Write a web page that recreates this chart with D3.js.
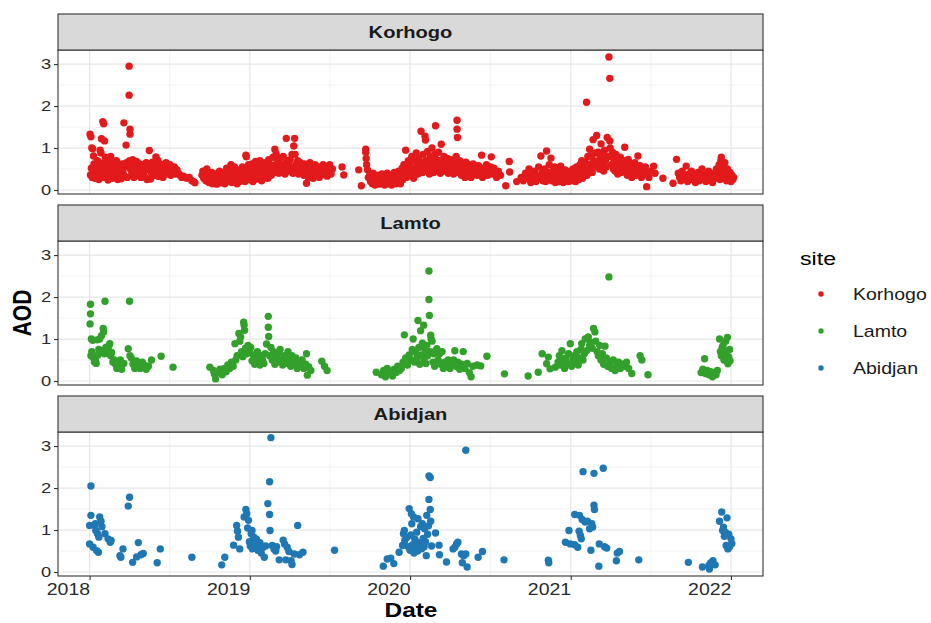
<!DOCTYPE html>
<html>
<head>
<meta charset="utf-8">
<script src="https://cdn.jsdelivr.net/npm/d3@7/dist/d3.min.js"></script>
<style>
  body { margin: 0; background: #ffffff; }
  svg { display: block; }
  text { font-family: "Liberation Sans", Arial, Helvetica, sans-serif; }
</style>
</head>
<body>
<svg id="chart" width="931" height="623"></svg>
<script>
// ---- data -------------------------------------------------------------
const sites = ["Korhogo", "Lamto", "Abidjan"];
const siteColors = ["#e31a1c", "#33a02c", "#1f78b4"];
const yTicks = [0, 1, 2, 3];
const yMinorTicks = [0.5, 1.5, 2.5];
const xTickYears = [2018, 2019, 2020, 2021, 2022];
const xDomain = ["2017-10-21", "2022-03-15"];
const yDomain = [-0.095, 3.335];

// daily AOD, [date, value]
const korhogo = [
  ["2018-01-02",1.33],["2018-01-03",0.36],["2018-01-04",1.27],["2018-01-05",0.52],["2018-01-06",1.0],["2018-01-07",0.3],
  ["2018-01-08",0.98],["2018-01-09",0.45],["2018-01-10",0.81],["2018-01-11",0.62],["2018-01-13",0.28],["2018-01-14",0.4],
  ["2018-01-16",0.55],["2018-01-17",0.33],["2018-01-19",0.7],["2018-01-20",0.47],["2018-01-22",0.25],["2018-01-23",0.6],
  ["2018-01-25",0.95],["2018-01-26",0.38],["2018-01-27",0.88],["2018-01-28",1.22],["2018-01-29",0.5],["2018-01-31",1.63],
  ["2018-01-31",0.3],["2018-02-02",1.58],["2018-02-03",0.65],["2018-02-04",1.17],["2018-02-05",0.42],["2018-02-06",0.78],
  ["2018-02-08",0.3],["2018-02-09",0.56],["2018-02-11",0.72],["2018-02-12",0.24],["2018-02-14",0.45],["2018-02-15",0.62],
  ["2018-02-17",0.35],["2018-02-18",0.8],["2018-02-20",0.5],["2018-02-22",0.28],["2018-02-23",0.66],["2018-02-25",0.4],
  ["2018-02-27",0.55],["2018-03-01",0.3],["2018-03-03",0.7],["2018-03-04",0.45],["2018-03-06",0.25],["2018-03-08",0.58],
  ["2018-03-10",0.38],["2018-03-12",0.5],["2018-03-14",0.27],["2018-03-16",0.62],["2018-03-18",0.42],["2018-03-20",1.6],
  ["2018-03-21",0.33],["2018-03-23",0.55],["2018-03-25",1.07],["2018-03-26",0.65],["2018-03-28",0.3],["2018-03-30",0.6],
  ["2018-04-01",2.95],["2018-04-01",2.26],["2018-04-02",0.7],["2018-04-03",1.45],["2018-04-03",1.33],["2018-04-04",0.5],
  ["2018-04-06",0.65],["2018-04-07",0.38],["2018-04-09",0.72],["2018-04-11",0.55],["2018-04-12",0.3],["2018-04-14",0.62],
  ["2018-04-16",0.45],["2018-04-18",0.68],["2018-04-20",0.35],["2018-04-22",0.58],["2018-04-24",0.42],["2018-04-26",0.62],
  ["2018-04-28",0.3],["2018-04-30",0.5],["2018-05-02",0.6],["2018-05-04",0.4],["2018-05-06",0.55],["2018-05-08",0.3],
  ["2018-05-10",0.65],["2018-05-12",0.25],["2018-05-14",0.48],["2018-05-17",0.94],["2018-05-18",0.58],["2018-05-20",0.26],
  ["2018-05-22",0.4],["2018-05-24",0.66],["2018-05-26",0.5],["2018-05-28",0.35],["2018-05-30",0.6],["2018-06-01",0.79],
  ["2018-06-03",0.45],["2018-06-05",0.71],["2018-06-07",0.32],["2018-06-09",0.55],["2018-06-11",0.62],["2018-06-13",0.4],
  ["2018-06-15",0.5],["2018-06-17",0.3],["2018-06-19",0.58],["2018-06-21",0.45],["2018-06-24",0.65],["2018-06-26",0.38],
  ["2018-06-28",0.52],["2018-07-01",0.44],["2018-07-03",0.6],["2018-07-05",0.35],["2018-07-08",0.5],["2018-07-10",0.42],
  ["2018-07-13",0.55],["2018-07-16",0.38],["2018-07-19",0.48],["2018-07-22",0.4],["2018-07-26",0.35],["2018-07-30",0.3],
  ["2018-08-03",0.33],["2018-08-10",0.28],["2018-08-16",0.3],["2018-08-22",0.22],["2018-08-26",0.2],["2018-08-29",0.17],
  ["2018-09-14",0.35],["2018-09-16",0.45],["2018-09-18",0.28],["2018-09-20",0.4],["2018-09-23",0.22],["2018-09-25",0.5],
  ["2018-09-27",0.3],["2018-09-30",0.18],["2018-10-02",0.36],["2018-10-04",0.25],["2018-10-06",0.42],["2018-10-08",0.15],
  ["2018-10-10",0.3],["2018-10-12",0.2],["2018-10-14",0.38],["2018-10-16",0.24],["2018-10-18",0.14],["2018-10-20",0.32],
  ["2018-10-22",0.2],["2018-10-24",0.45],["2018-10-26",0.27],["2018-10-28",0.17],["2018-10-30",0.35],["2018-11-01",0.22],
  ["2018-11-03",0.4],["2018-11-05",0.15],["2018-11-07",0.3],["2018-11-09",0.52],["2018-11-11",0.2],["2018-11-13",0.35],
  ["2018-11-15",0.25],["2018-11-17",0.45],["2018-11-19",0.6],["2018-11-21",0.18],["2018-11-23",0.38],["2018-11-25",0.28],
  ["2018-11-27",0.55],["2018-11-29",0.22],["2018-12-01",0.4],["2018-12-03",0.15],["2018-12-05",0.32],["2018-12-07",0.48],
  ["2018-12-09",0.2],["2018-12-11",0.36],["2018-12-13",0.26],["2018-12-15",0.55],["2018-12-17",0.3],["2018-12-19",0.42],
  ["2018-12-21",0.2],["2018-12-23",0.83],["2018-12-24",0.79],["2018-12-25",0.5],["2018-12-27",0.33],["2018-12-29",0.6],
  ["2018-12-31",0.25],["2019-01-02",0.45],["2019-01-04",0.3],["2019-01-06",0.62],["2019-01-08",0.2],["2019-01-10",0.5],
  ["2019-01-12",0.38],["2019-01-14",0.68],["2019-01-16",0.26],["2019-01-18",0.45],["2019-01-20",0.55],["2019-01-22",0.33],
  ["2019-01-24",0.7],["2019-01-26",0.4],["2019-01-28",0.22],["2019-01-30",0.58],["2019-02-01",0.48],["2019-02-03",0.3],
  ["2019-02-05",0.65],["2019-02-07",0.4],["2019-02-09",0.55],["2019-02-11",0.28],["2019-02-13",0.72],["2019-02-15",0.45],
  ["2019-02-17",0.6],["2019-02-19",0.35],["2019-02-21",0.5],["2019-02-23",0.78],["2019-02-25",0.42],["2019-02-27",0.97],
  ["2019-02-28",0.6],["2019-03-02",0.86],["2019-03-04",0.5],["2019-03-06",0.68],["2019-03-08",0.4],["2019-03-10",0.76],
  ["2019-03-12",0.55],["2019-03-14",0.62],["2019-03-16",0.45],["2019-03-18",0.8],["2019-03-20",0.52],["2019-03-22",0.38],
  ["2019-03-25",1.23],["2019-03-26",0.7],["2019-03-28",0.5],["2019-03-30",0.6],["2019-04-01",0.45],["2019-04-03",0.72],
  ["2019-04-05",0.55],["2019-04-07",0.85],["2019-04-09",0.4],["2019-04-11",1.05],["2019-04-13",1.23],["2019-04-14",0.85],
  ["2019-04-16",0.6],["2019-04-18",0.48],["2019-04-20",0.7],["2019-04-22",0.38],["2019-04-24",0.55],["2019-04-26",0.65],
  ["2019-04-28",0.45],["2019-04-30",0.58],["2019-05-02",0.5],["2019-05-04",0.35],["2019-05-06",0.62],["2019-05-08",0.42],
  ["2019-05-10",0.16],["2019-05-12",0.55],["2019-05-14",0.3],["2019-05-16",0.48],["2019-05-18",0.65],["2019-05-20",0.38],
  ["2019-05-22",0.52],["2019-05-25",0.28],["2019-05-28",0.45],["2019-05-30",0.6],["2019-06-02",0.4],["2019-06-05",0.55],
  ["2019-06-08",0.3],["2019-06-11",0.48],["2019-06-14",0.36],["2019-06-17",0.6],["2019-06-20",0.42],["2019-06-23",0.5],
  ["2019-06-26",0.33],["2019-06-29",0.45],["2019-07-02",0.6],["2019-07-05",0.38],["2019-07-08",0.5],["2019-07-30",0.55],
  ["2019-08-03",0.36],["2019-09-06",0.48],["2019-09-12",0.1],["2019-09-22",0.97],["2019-09-22",0.9],["2019-09-23",0.75],
  ["2019-09-24",0.6],["2019-09-26",0.48],["2019-09-28",0.3],["2019-10-01",0.35],["2019-10-03",0.2],["2019-10-05",0.28],
  ["2019-10-07",0.15],["2019-10-09",0.4],["2019-10-11",0.22],["2019-10-13",0.12],["2019-10-15",0.3],["2019-10-17",0.18],
  ["2019-10-19",0.25],["2019-10-21",0.35],["2019-10-23",0.14],["2019-10-25",0.28],["2019-10-27",0.2],["2019-10-29",0.38],
  ["2019-10-31",0.16],["2019-11-02",0.25],["2019-11-04",0.12],["2019-11-06",0.32],["2019-11-08",0.2],["2019-11-10",0.4],
  ["2019-11-12",0.15],["2019-11-14",0.28],["2019-11-16",0.22],["2019-11-18",0.35],["2019-11-20",0.12],["2019-11-22",0.3],
  ["2019-11-24",0.18],["2019-11-26",0.42],["2019-11-28",0.25],["2019-11-30",0.15],["2019-12-02",0.33],["2019-12-04",0.2],
  ["2019-12-06",0.45],["2019-12-08",0.28],["2019-12-10",0.15],["2019-12-12",0.38],["2019-12-14",0.52],["2019-12-16",0.25],
  ["2019-12-18",0.6],["2019-12-20",0.4],["2019-12-22",0.95],["2019-12-24",0.3],["2019-12-26",0.55],["2019-12-28",0.7],
  ["2019-12-30",0.45],["2020-01-01",0.62],["2020-01-03",0.35],["2020-01-05",0.8],["2020-01-07",0.5],["2020-01-09",0.28],
  ["2020-01-11",0.7],["2020-01-13",0.45],["2020-01-15",0.88],["2020-01-17",0.58],["2020-01-19",0.38],["2020-01-21",0.75],
  ["2020-01-23",0.5],["2020-01-26",1.4],["2020-01-27",0.65],["2020-01-29",0.42],["2020-01-31",0.85],["2020-02-02",0.55],
  ["2020-02-04",1.28],["2020-02-05",1.19],["2020-02-06",0.7],["2020-02-08",0.45],["2020-02-10",0.92],["2020-02-12",0.6],
  ["2020-02-14",0.38],["2020-02-16",0.78],["2020-02-18",0.52],["2020-02-20",1.0],["2020-02-22",0.65],["2020-02-24",0.42],
  ["2020-02-26",0.85],["2020-02-28",1.53],["2020-02-29",0.58],["2020-03-02",0.72],["2020-03-04",0.48],["2020-03-06",0.9],
  ["2020-03-08",0.62],["2020-03-10",0.4],["2020-03-12",1.09],["2020-03-14",0.7],["2020-03-16",0.52],["2020-03-18",0.8],
  ["2020-03-20",0.45],["2020-03-22",0.65],["2020-03-24",0.58],["2020-03-26",0.75],["2020-03-28",0.4],["2020-03-30",0.62],
  ["2020-04-01",0.5],["2020-04-03",0.72],["2020-04-05",0.45],["2020-04-07",0.6],["2020-04-09",0.38],["2020-04-11",0.68],
  ["2020-04-13",0.52],["2020-04-15",0.8],["2020-04-17",1.66],["2020-04-17",1.45],["2020-04-18",1.25],["2020-04-19",0.6],
  ["2020-04-21",0.42],["2020-04-23",0.7],["2020-04-25",0.5],["2020-04-27",0.35],["2020-04-29",0.62],["2020-05-01",0.45],
  ["2020-05-03",0.58],["2020-05-05",0.3],["2020-05-07",0.66],["2020-05-09",0.48],["2020-05-11",0.38],["2020-05-13",0.6],
  ["2020-05-15",0.42],["2020-05-17",0.55],["2020-05-19",0.3],["2020-05-21",0.5],["2020-05-24",0.62],["2020-05-27",0.4],
  ["2020-05-30",0.52],["2020-06-02",0.35],["2020-06-05",0.58],["2020-06-08",0.45],["2020-06-12",0.83],["2020-06-14",0.3],
  ["2020-06-17",0.52],["2020-06-20",0.4],["2020-06-23",0.6],["2020-06-26",0.35],["2020-06-29",0.48],["2020-07-02",0.55],
  ["2020-07-04",0.79],["2020-07-07",0.38],["2020-07-10",0.52],["2020-07-12",0.43],["2020-07-16",0.3],["2020-07-20",0.45],
  ["2020-07-25",0.35],["2020-08-06",0.1],["2020-08-14",0.68],["2020-08-15",0.43],["2020-08-31",0.2],["2020-09-10",0.3],
  ["2020-09-15",0.22],["2020-09-20",0.4],["2020-09-24",0.28],["2020-09-28",0.5],["2020-10-02",0.18],["2020-10-05",0.35],
  ["2020-10-08",0.25],["2020-10-11",0.45],["2020-10-14",0.2],["2020-10-17",0.32],["2020-10-20",0.55],["2020-10-23",0.28],
  ["2020-10-25",0.81],["2020-10-27",0.4],["2020-10-30",0.22],["2020-11-01",0.35],["2020-11-03",0.5],["2020-11-05",0.2],
  ["2020-11-07",0.93],["2020-11-09",0.42],["2020-11-11",0.28],["2020-11-13",0.6],["2020-11-15",0.35],["2020-11-17",0.76],
  ["2020-11-19",0.22],["2020-11-21",0.45],["2020-11-23",0.3],["2020-11-25",0.55],["2020-11-27",0.18],["2020-11-29",0.4],
  ["2020-12-01",0.28],["2020-12-03",0.5],["2020-12-05",0.2],["2020-12-07",0.38],["2020-12-09",0.57],["2020-12-11",0.25],
  ["2020-12-13",0.42],["2020-12-15",0.18],["2020-12-17",0.35],["2020-12-19",0.48],["2020-12-21",0.22],["2020-12-23",0.3],
  ["2020-12-25",0.45],["2020-12-27",0.2],["2020-12-29",0.38],["2020-12-31",0.26],["2021-01-02",0.35],["2021-01-04",0.22],
  ["2021-01-06",0.5],["2021-01-08",0.3],["2021-01-10",0.42],["2021-01-12",0.2],["2021-01-14",0.55],["2021-01-16",0.33],
  ["2021-01-18",0.45],["2021-01-20",0.25],["2021-01-22",0.6],["2021-01-24",0.38],["2021-01-26",0.7],["2021-01-28",0.28],
  ["2021-01-30",0.5],["2021-02-01",0.45],["2021-02-03",0.65],["2021-02-06",2.09],["2021-02-07",0.35],["2021-02-09",0.8],
  ["2021-02-11",0.5],["2021-02-13",0.97],["2021-02-15",0.62],["2021-02-17",0.81],["2021-02-19",0.42],["2021-02-21",1.2],
  ["2021-02-23",0.7],["2021-02-25",0.55],["2021-02-27",0.88],["2021-03-01",1.3],["2021-03-03",0.65],["2021-03-05",0.9],
  ["2021-03-07",0.5],["2021-03-09",0.75],["2021-03-11",1.1],["2021-03-13",0.6],["2021-03-15",0.85],["2021-03-17",0.45],
  ["2021-03-19",0.95],["2021-03-21",0.7],["2021-03-23",0.55],["2021-03-25",1.25],["2021-03-27",0.8],["2021-03-29",3.17],
  ["2021-03-31",2.66],["2021-03-31",1.17],["2021-04-01",1.0],["2021-04-02",0.8],["2021-04-04",0.6],["2021-04-06",0.9],
  ["2021-04-08",0.5],["2021-04-10",0.72],["2021-04-12",0.45],["2021-04-14",0.85],["2021-04-16",0.6],["2021-04-18",0.38],
  ["2021-04-20",0.68],["2021-04-22",0.52],["2021-04-24",0.78],["2021-04-26",0.42],["2021-04-28",0.6],["2021-04-30",0.5],
  ["2021-05-02",0.7],["2021-05-04",1.02],["2021-05-06",0.45],["2021-05-08",0.6],["2021-05-10",0.35],["2021-05-12",0.73],
  ["2021-05-14",0.5],["2021-05-16",0.4],["2021-05-18",0.62],["2021-05-20",0.3],["2021-05-22",0.55],["2021-05-24",0.42],
  ["2021-05-27",0.65],["2021-05-30",0.35],["2021-06-01",0.5],["2021-06-03",0.81],["2021-06-05",0.4],["2021-06-08",0.58],
  ["2021-06-11",0.3],["2021-06-14",0.48],["2021-06-17",0.38],["2021-06-20",0.55],["2021-06-23",0.08],["2021-06-25",0.42],
  ["2021-06-28",0.3],["2021-07-03",0.45],["2021-07-09",0.57],["2021-07-12",0.4],["2021-07-30",0.28],["2021-08-22",0.16],
  ["2021-08-30",0.73],["2021-09-03",0.4],["2021-09-06",0.3],["2021-09-09",0.22],["2021-09-12",0.45],["2021-09-15",0.35],
  ["2021-09-18",0.28],["2021-09-21",0.57],["2021-09-24",0.2],["2021-09-27",0.38],["2021-09-30",0.3],["2021-10-03",0.45],
  ["2021-10-06",0.25],["2021-10-09",0.35],["2021-10-12",0.18],["2021-10-15",0.3],["2021-10-18",0.42],["2021-10-21",0.22],
  ["2021-10-24",0.33],["2021-10-27",0.5],["2021-10-30",0.25],["2021-11-02",0.38],["2021-11-05",0.2],["2021-11-08",0.3],
  ["2021-11-11",0.45],["2021-11-14",0.25],["2021-11-17",0.35],["2021-11-20",0.18],["2021-11-23",0.4],["2021-11-26",0.28],
  ["2021-11-29",0.5],["2021-12-01",0.3],["2021-12-03",0.45],["2021-12-05",0.6],["2021-12-07",0.25],["2021-12-09",0.7],
  ["2021-12-10",0.78],["2021-12-12",0.4],["2021-12-14",0.55],["2021-12-16",0.32],["2021-12-18",0.65],["2021-12-20",0.45],
  ["2021-12-22",0.22],["2021-12-24",0.5],["2021-12-26",0.38],["2021-12-28",0.28],["2021-12-30",0.42],["2022-01-01",0.2],
  ["2022-01-03",0.35],["2022-01-05",0.25],["2022-01-07",0.3]
];

const lamto = [
  ["2018-01-02",1.36],["2018-01-03",1.83],["2018-01-03",1.6],["2018-01-04",0.6],["2018-01-05",1.0],["2018-01-06",0.7],
  ["2018-01-08",0.97],["2018-01-10",0.55],["2018-01-12",0.45],["2018-01-14",0.5],["2018-01-16",0.42],["2018-01-18",0.98],
  ["2018-01-20",0.62],["2018-01-22",0.75],["2018-01-24",1.0],["2018-01-26",0.68],["2018-01-28",1.08],["2018-01-30",0.72],
  ["2018-02-01",1.25],["2018-02-02",1.17],["2018-02-04",0.65],["2018-02-05",1.9],["2018-02-07",0.8],["2018-02-09",0.7],
  ["2018-02-12",0.75],["2018-02-14",0.85],["2018-02-16",0.89],["2018-02-18",0.6],["2018-02-20",0.68],["2018-02-23",0.45],
  ["2018-02-26",0.5],["2018-03-01",0.4],["2018-03-04",0.3],["2018-03-06",0.45],["2018-03-09",0.35],["2018-03-12",0.5],
  ["2018-03-15",0.28],["2018-03-20",0.42],["2018-03-30",0.77],["2018-04-02",1.9],["2018-04-03",0.6],["2018-04-06",0.55],
  ["2018-04-10",0.4],["2018-04-14",0.3],["2018-04-18",0.48],["2018-04-22",0.35],["2018-04-26",0.3],["2018-05-01",0.45],
  ["2018-05-05",0.38],["2018-05-10",0.28],["2018-05-15",0.35],["2018-05-22",0.5],["2018-06-13",0.59],["2018-07-10",0.33],
  ["2018-10-02",0.33],["2018-10-10",0.25],["2018-10-12",0.17],["2018-10-15",0.05],["2018-10-20",0.2],["2018-10-25",0.28],
  ["2018-10-30",0.15],["2018-11-04",0.3],["2018-11-08",0.22],["2018-11-12",0.38],["2018-11-16",0.3],["2018-11-20",0.45],
  ["2018-11-24",0.35],["2018-11-28",0.89],["2018-11-30",0.5],["2018-12-03",0.6],["2018-12-07",1.13],["2018-12-09",0.95],
  ["2018-12-11",1.05],["2018-12-13",0.7],["2018-12-16",0.58],["2018-12-18",1.4],["2018-12-19",1.33],["2018-12-20",1.21],
  ["2018-12-22",0.78],["2018-12-25",0.65],["2018-12-28",0.85],["2018-12-31",0.72],["2019-01-03",0.8],["2019-01-06",0.48],
  ["2019-01-09",0.62],["2019-01-12",0.4],["2019-01-15",0.55],["2019-01-18",0.7],["2019-01-21",0.45],["2019-01-24",0.38],
  ["2019-01-27",0.6],["2019-01-30",0.5],["2019-02-02",0.42],["2019-02-05",0.65],["2019-02-08",0.88],["2019-02-12",1.54],
  ["2019-02-12",1.28],["2019-02-13",1.06],["2019-02-15",0.6],["2019-02-18",0.8],["2019-02-21",0.5],["2019-02-24",0.7],
  ["2019-02-27",0.4],["2019-03-02",0.55],["2019-03-05",0.65],["2019-03-08",0.45],["2019-03-11",0.75],["2019-03-14",0.5],
  ["2019-03-17",0.38],["2019-03-20",0.6],["2019-03-23",0.42],["2019-03-26",0.55],["2019-03-29",0.7],["2019-04-01",0.45],
  ["2019-04-04",0.35],["2019-04-07",0.6],["2019-04-10",0.5],["2019-04-13",0.4],["2019-04-16",0.55],["2019-04-19",0.3],
  ["2019-04-22",0.45],["2019-04-26",0.35],["2019-04-30",0.5],["2019-05-04",0.3],["2019-05-08",0.4],["2019-05-10",0.65],
  ["2019-05-12",0.14],["2019-05-15",0.34],["2019-05-20",0.25],["2019-06-14",0.47],["2019-06-20",0.35],["2019-06-26",0.25],
  ["2019-10-16",0.21],["2019-10-28",0.15],["2019-11-02",0.25],["2019-11-06",0.1],["2019-11-10",0.3],["2019-11-14",0.18],
  ["2019-11-18",0.22],["2019-11-22",0.12],["2019-11-26",0.28],["2019-11-30",0.2],["2019-12-04",0.35],["2019-12-08",0.25],
  ["2019-12-12",0.3],["2019-12-16",0.45],["2019-12-19",1.1],["2019-12-22",0.55],["2019-12-26",0.38],["2019-12-30",0.62],
  ["2020-01-03",0.5],["2020-01-06",0.75],["2020-01-08",1.0],["2020-01-11",0.45],["2020-01-14",0.68],["2020-01-17",0.55],
  ["2020-01-19",1.44],["2020-01-21",0.8],["2020-01-23",0.4],["2020-01-25",1.2],["2020-01-27",0.62],["2020-01-29",0.9],
  ["2020-02-01",1.33],["2020-02-02",0.5],["2020-02-04",0.75],["2020-02-06",0.42],["2020-02-08",0.85],["2020-02-10",0.6],
  ["2020-02-13",2.62],["2020-02-13",1.94],["2020-02-14",1.56],["2020-02-15",0.7],["2020-02-17",1.09],["2020-02-18",1.0],
  ["2020-02-20",0.95],["2020-02-22",0.45],["2020-02-24",0.65],["2020-02-26",0.35],["2020-02-28",0.72],["2020-03-02",0.77],
  ["2020-03-05",0.5],["2020-03-08",0.65],["2020-03-11",0.4],["2020-03-14",0.7],["2020-03-17",0.3],["2020-03-20",0.45],
  ["2020-03-24",0.35],["2020-03-28",0.5],["2020-04-01",0.3],["2020-04-05",0.42],["2020-04-09",0.5],["2020-04-12",0.72],
  ["2020-04-15",0.35],["2020-04-19",0.45],["2020-04-23",0.28],["2020-04-27",0.4],["2020-05-01",0.7],["2020-05-05",0.3],
  ["2020-05-10",0.42],["2020-05-15",0.2],["2020-05-19",0.1],["2020-05-23",0.35],["2020-06-02",0.38],["2020-06-10",0.36],
  ["2020-06-24",0.59],["2020-08-03",0.17],["2020-09-26",0.12],["2020-10-19",0.21],["2020-10-28",0.65],["2020-11-07",0.41],
  ["2020-11-11",0.57],["2020-11-15",0.29],["2020-11-27",0.33],["2020-12-03",0.45],["2020-12-06",0.6],["2020-12-09",0.38],
  ["2020-12-12",0.72],["2020-12-15",0.5],["2020-12-18",0.3],["2020-12-21",0.55],["2020-12-24",0.42],["2020-12-27",0.65],
  ["2020-12-31",0.89],["2021-01-03",0.35],["2021-01-06",0.5],["2021-01-09",0.6],["2021-01-12",0.45],["2021-01-15",0.7],
  ["2021-01-18",0.38],["2021-01-21",0.55],["2021-01-24",0.75],["2021-01-26",0.89],["2021-01-29",0.5],["2021-02-01",0.65],
  ["2021-02-03",1.0],["2021-02-06",0.72],["2021-02-10",1.05],["2021-02-13",0.85],["2021-02-16",0.92],["2021-02-19",0.78],
  ["2021-02-22",1.25],["2021-02-25",1.17],["2021-02-27",0.95],["2021-03-02",0.7],["2021-03-05",0.6],["2021-03-08",0.85],
  ["2021-03-11",0.5],["2021-03-14",0.65],["2021-03-17",0.4],["2021-03-20",0.83],["2021-03-23",0.55],["2021-03-26",0.35],
  ["2021-03-29",2.48],["2021-04-01",0.45],["2021-04-04",0.3],["2021-04-08",0.5],["2021-04-12",0.25],["2021-04-16",0.38],
  ["2021-04-20",0.45],["2021-04-24",0.3],["2021-04-28",0.4],["2021-05-03",0.35],["2021-05-08",0.45],["2021-05-13",0.3],
  ["2021-05-20",0.18],["2021-06-08",0.6],["2021-06-12",0.5],["2021-06-26",0.15],["2021-10-25",0.2],["2021-10-29",0.28],
  ["2021-11-02",0.53],["2021-11-04",0.18],["2021-11-08",0.25],["2021-11-12",0.15],["2021-11-16",0.22],["2021-11-20",0.1],
  ["2021-11-24",0.2],["2021-11-28",0.15],["2021-12-01",0.25],["2021-12-06",1.0],["2021-12-08",0.7],["2021-12-10",0.6],
  ["2021-12-12",0.8],["2021-12-14",0.85],["2021-12-16",0.5],["2021-12-18",0.72],["2021-12-20",0.95],["2021-12-22",0.65],
  ["2021-12-24",1.04],["2021-12-25",0.41],["2021-12-27",0.57],["2021-12-29",0.75],["2021-12-30",0.48]
];

const abidjan = [
  ["2018-01-01",1.11],["2018-01-01",0.67],["2018-01-04",2.05],["2018-01-04",1.35],["2018-01-09",0.59],["2018-01-12",1.12],
  ["2018-01-14",1.15],["2018-01-15",0.99],["2018-01-17",0.51],["2018-01-19",0.91],["2018-01-21",0.47],["2018-01-22",0.83],
  ["2018-01-24",1.31],["2018-01-27",1.21],["2018-01-29",1.08],["2018-02-05",0.91],["2018-02-12",0.79],["2018-02-17",0.71],
  ["2018-02-19",0.75],["2018-03-11",0.39],["2018-03-13",0.35],["2018-03-18",0.55],["2018-03-30",1.57],["2018-04-02",1.78],
  ["2018-04-09",0.23],["2018-04-18",0.36],["2018-04-22",0.7],["2018-04-28",0.41],["2018-05-03",0.44],["2018-06-04",0.22],
  ["2018-06-11",0.55],["2018-08-22",0.35],
  ["2018-10-29",0.17],["2018-11-05",0.35],["2018-11-25",0.64],["2018-12-02",1.11],["2018-12-04",0.97],["2018-12-06",0.83],
  ["2018-12-09",0.55],["2018-12-19",1.31],["2018-12-23",1.49],["2018-12-25",1.39],["2018-12-27",1.05],["2018-12-29",1.23],
  ["2018-12-31",0.72],["2019-01-02",0.62],["2019-01-04",0.91],["2019-01-06",0.99],["2019-01-07",0.55],["2019-01-09",0.75],
  ["2019-01-10",0.83],["2019-01-12",0.68],["2019-01-14",0.6],["2019-01-16",0.78],["2019-01-19",0.52],["2019-01-21",0.65],
  ["2019-01-24",0.7],["2019-01-27",0.45],["2019-01-30",0.58],["2019-02-03",0.35],["2019-02-06",0.62],["2019-02-11",1.63],
  ["2019-02-15",2.15],["2019-02-15",1.37],["2019-02-16",0.99],["2019-02-18",3.2],["2019-02-21",0.63],["2019-02-25",0.55],
  ["2019-03-01",0.5],["2019-03-03",0.6],["2019-03-09",0.29],["2019-03-18",0.76],["2019-03-21",0.67],["2019-03-24",0.29],
  ["2019-03-27",0.59],["2019-03-31",0.49],["2019-04-05",0.27],["2019-04-07",0.18],["2019-04-12",0.43],["2019-04-20",1.11],
  ["2019-04-24",0.41],["2019-05-02",0.47],["2019-07-13",0.52],
  ["2019-11-01",0.14],["2019-11-10",0.31],["2019-11-18",0.33],["2019-11-25",0.2],["2019-12-07",0.47],["2019-12-15",0.63],
  ["2019-12-17",0.91],["2019-12-19",0.99],["2019-12-20",0.75],["2019-12-25",0.83],["2019-12-28",0.6],["2019-12-30",1.51],
  ["2020-01-01",0.52],["2020-01-03",0.88],["2020-01-04",1.39],["2020-01-05",1.15],["2020-01-07",0.65],["2020-01-09",1.31],
  ["2020-01-10",0.45],["2020-01-12",0.78],["2020-01-14",0.58],["2020-01-16",0.95],["2020-01-18",0.5],["2020-01-19",1.27],
  ["2020-01-21",0.7],["2020-01-23",0.62],["2020-01-25",1.08],["2020-01-27",0.55],["2020-01-29",1.15],["2020-01-31",0.8],
  ["2020-02-02",0.6],["2020-02-03",1.03],["2020-02-05",0.72],["2020-02-07",0.39],["2020-02-08",1.35],["2020-02-10",0.9],
  ["2020-02-12",1.1],["2020-02-13",1.73],["2020-02-13",2.29],["2020-02-16",2.25],["2020-02-16",1.49],["2020-02-17",1.21],
  ["2020-02-19",0.62],["2020-02-28",0.93],["2020-03-07",0.64],["2020-03-08",0.41],["2020-03-24",0.24],["2020-04-08",0.55],
  ["2020-04-12",0.59],["2020-04-16",0.67],["2020-04-19",0.71],["2020-04-27",0.43],["2020-04-29",0.22],["2020-05-02",0.39],
  ["2020-05-07",0.43],["2020-05-07",2.9],["2020-05-10",0.12],["2020-06-04",0.35],["2020-06-14",0.49],["2020-08-02",0.29],
  ["2020-11-11",0.28],["2020-11-12",0.22],
  ["2020-12-20",0.71],["2020-12-28",0.99],["2020-12-31",0.67],["2021-01-10",0.65],["2021-01-10",1.37],["2021-01-17",0.59],
  ["2021-01-20",0.97],["2021-01-21",1.35],["2021-01-23",0.87],["2021-01-25",0.79],["2021-01-27",1.25],["2021-01-29",2.39],
  ["2021-02-03",1.19],["2021-02-08",1.21],["2021-02-13",1.03],["2021-02-16",0.52],["2021-02-18",1.15],["2021-02-20",1.07],
  ["2021-02-23",2.35],["2021-02-23",1.59],["2021-02-24",1.49],["2021-03-06",0.14],["2021-03-07",0.67],["2021-03-16",2.47],
  ["2021-03-19",0.6],["2021-03-24",0.57],["2021-04-15",0.27],["2021-04-17",0.45],["2021-04-22",0.49],["2021-06-05",0.29],
  ["2021-09-26",0.23],["2021-10-28",0.12],["2021-11-12",0.16],["2021-11-13",0.07],["2021-11-16",0.22],["2021-11-21",0.27],
  ["2021-11-26",0.17],["2021-12-06",1.21],["2021-12-11",1.43],["2021-12-13",0.99],["2021-12-15",1.07],["2021-12-17",0.85],
  ["2021-12-19",0.95],["2021-12-21",0.63],["2021-12-23",1.29],["2021-12-25",0.55],["2021-12-27",0.9],["2021-12-29",0.6],
  ["2022-01-01",0.79],["2022-01-03",0.68]
];

const seriesBySite = { Korhogo: korhogo, Lamto: lamto, Abidjan: abidjan };

// ---- layout -----------------------------------------------------------
const W = 931, H = 623;
const panelLeft = 58, panelRight = 763;
const facetTop0 = 14, facetStep = 191, stripH = 36, panelH = 144;
const textStretch = 1.22;            // horizontal glyph scaling of all labels
const ink = "#333333";
const fontStack = '"Liberation Sans", Arial, Helvetica, sans-serif';

const parseDate = d3.timeParse("%Y-%m-%d");
const svg = d3.select("#chart");

svg.append("rect").attr("width", W).attr("height", H).attr("fill", "#ffffff");

const x = d3.scaleTime()
  .domain(xDomain.map(parseDate))
  .range([panelLeft, panelRight]);

const majorX = xTickYears.map(yr => new Date(yr, 0, 1));
const minorX = d3.pairs(majorX).map(([a, b]) => new Date((+a + +b) / 2));

sites.forEach((site, i) => {
  const top = facetTop0 + i * facetStep;
  const pTop = top + stripH;
  const pBot = pTop + panelH;
  const y = d3.scaleLinear().domain(yDomain).range([pBot, pTop]);
  const g = svg.append("g").attr("class", "facet facet-" + site);

  // panel background
  g.append("rect")
    .attr("x", panelLeft).attr("y", pTop)
    .attr("width", panelRight - panelLeft).attr("height", panelH)
    .attr("fill", "#ffffff");

  // minor grid
  g.append("g").selectAll("line").data(yMinorTicks).join("line")
    .attr("x1", panelLeft).attr("x2", panelRight)
    .attr("y1", d => y(d)).attr("y2", d => y(d))
    .attr("stroke", "#f0f0f0").attr("stroke-width", 0.8);
  g.append("g").selectAll("line").data(minorX).join("line")
    .attr("x1", d => x(d)).attr("x2", d => x(d))
    .attr("y1", pTop).attr("y2", pBot)
    .attr("stroke", "#f0f0f0").attr("stroke-width", 0.8);

  // major grid
  g.append("g").selectAll("line").data(yTicks).join("line")
    .attr("x1", panelLeft).attr("x2", panelRight)
    .attr("y1", d => y(d)).attr("y2", d => y(d))
    .attr("stroke", "#e6e6e6").attr("stroke-width", 1.2);
  g.append("g").selectAll("line").data(majorX).join("line")
    .attr("x1", d => x(d)).attr("x2", d => x(d))
    .attr("y1", pTop).attr("y2", pBot)
    .attr("stroke", "#e6e6e6").attr("stroke-width", 1.2);

  // observations
  g.append("g").selectAll("circle").data(seriesBySite[site]).join("circle")
    .attr("cx", d => x(parseDate(d[0])))
    .attr("cy", d => y(d[1]))
    .attr("r", 3.7)
    .attr("fill", siteColors[i]);

  // panel border
  g.append("rect")
    .attr("x", panelLeft).attr("y", pTop)
    .attr("width", panelRight - panelLeft).attr("height", panelH)
    .attr("fill", "none").attr("stroke", ink).attr("stroke-width", 1.1);

  // strip
  g.append("rect")
    .attr("x", panelLeft).attr("y", top)
    .attr("width", panelRight - panelLeft).attr("height", stripH)
    .attr("fill", "#d9d9d9").attr("stroke", ink).attr("stroke-width", 1.1);
  g.append("text")
    .attr("transform", `translate(${(panelLeft + panelRight) / 2},${top + stripH / 2 + 6})scale(${textStretch},1)`)
    .attr("text-anchor", "middle")
    .attr("font-size", 16.5).attr("font-weight", "bold")
    .attr("fill", "#1a1a1a")
    .text(site);

  // y axis
  const yAxis = g.append("g")
    .attr("transform", `translate(${panelLeft},0)`)
    .call(d3.axisLeft(y).tickValues(yTicks).tickFormat(d3.format("d")).tickSize(4).tickPadding(1.5));
  yAxis.select(".domain").remove();
  yAxis.selectAll(".tick line").attr("stroke", ink).attr("stroke-width", 1.1);
  yAxis.selectAll(".tick text")
    .attr("font-family", fontStack).attr("font-size", 15).attr("fill", "#2b2b2b")
    .attr("transform", `scale(${textStretch},1)`);

  // x axis on the bottom facet only
  if (i === sites.length - 1) {
    const xAxis = g.append("g")
      .attr("transform", `translate(0,${pBot})`)
      .call(d3.axisBottom(x).tickValues(majorX).tickFormat(d3.timeFormat("%Y")).tickSize(4).tickPadding(4));
    xAxis.select(".domain").remove();
    xAxis.selectAll(".tick line").attr("stroke", ink).attr("stroke-width", 1.1);
    xAxis.selectAll(".tick text")
      .attr("font-family", fontStack).attr("font-size", 16).attr("fill", "#2b2b2b")
      .attr("text-anchor", "end")
      .attr("transform", `scale(${textStretch},1)`);
  }
});

// axis titles
svg.append("text")
  .attr("transform", `translate(411,617)scale(${textStretch},1)`)
  .attr("text-anchor", "middle")
  .attr("font-size", 20).attr("font-weight", "bold").attr("fill", "#000")
  .text("Date");

svg.append("text")
  .attr("transform", `translate(31,313)scale(${textStretch},1)rotate(-90)`)
  .attr("text-anchor", "middle")
  .attr("font-size", 21).attr("font-weight", "bold").attr("fill", "#000")
  .text("AOD");

// legend
const legend = svg.append("g").attr("class", "legend");
legend.append("text")
  .attr("transform", `translate(800,265)scale(${textStretch},1)`)
  .attr("font-size", 19).attr("fill", "#000")
  .text("site");

const legendY = d3.scalePoint().domain(sites).range([294, 368]);
const items = legend.selectAll("g.item").data(sites).join("g")
  .attr("class", "item")
  .attr("transform", d => `translate(0,${legendY(d)})`);
items.append("circle")
  .attr("cx", 821).attr("cy", 0).attr("r", 2.7)
  .attr("fill", (d, k) => siteColors[k]);
items.append("text")
  .attr("transform", `translate(853,0)scale(${textStretch},1)`)
  .attr("dy", "0.36em")
  .attr("font-size", 16).attr("fill", "#1a1a1a")
  .text(d => d);
</script>
</body>
</html>
